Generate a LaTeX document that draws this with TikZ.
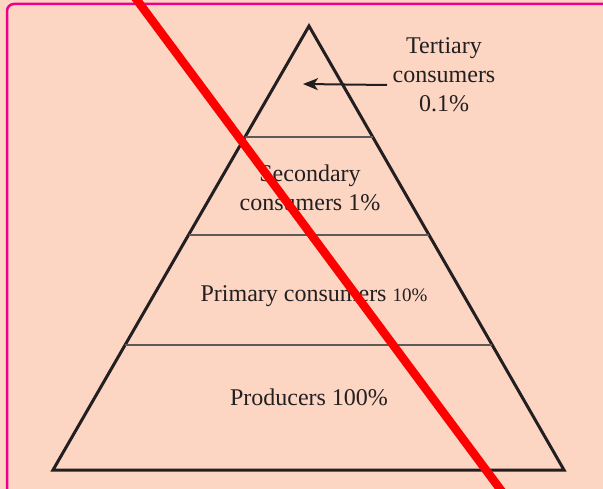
\documentclass[tikz,border=0pt]{standalone}
\usepackage{fontspec}
\setmainfont{Liberation Serif}
\usetikzlibrary{calc,arrows.meta}
\definecolor{bgpeach}{RGB}{252,213,195}
\definecolor{framepink}{RGB}{236,0,140}
\definecolor{inkdark}{RGB}{35,31,32}
\definecolor{linegray}{RGB}{95,90,90}
\begin{document}
\begin{tikzpicture}[x=1pt,y=-1pt,
  pyr/.style={draw=inkdark,line width=3pt,line join=miter},
  level/.style={draw=linegray,line width=1.3pt},
  lbl/.style={text=inkdark,font=\fontsize{24}{29}\selectfont,align=center,inner sep=0pt},
  cross/.style={draw=red,line width=8.5pt}]
\useasboundingbox (0,0) rectangle (603,489);
\begin{scope}
\clip (0,0) rectangle (603,489);
\fill[bgpeach] (0,0) rectangle (603,489);
\draw[framepink,line width=2.5pt,rounded corners=7pt,fill=bgpeach] (7,4) rectangle (640,495);
\end{scope}
% pyramid
\coordinate (apex) at (309,26);
\coordinate (bl) at (53,470);
\coordinate (br) at (564,470);
\draw[pyr] (apex) -- (bl) -- (br) -- cycle;
\draw[level] ($(apex)!0.25!(bl)$) coordinate (l1a) -- ($(apex)!0.25!(br)$) coordinate (l1b);
\draw[level] ($(apex)!0.4707!(bl)$) coordinate (l2a) -- ($(apex)!0.4707!(br)$) coordinate (l2b);
\draw[level] ($(apex)!0.7185!(bl)$) coordinate (l3a) -- ($(apex)!0.7185!(br)$) coordinate (l3b);
% labels
\node[lbl] (tert) at (444,75) {Tertiary\\consumers\\0.1\%};
\node[lbl] (sec) at (310,188) {Secondary\\consumers 1\%};
\node[lbl,anchor=base] (prim) at (314,302) {Primary consumers {\fontsize{19}{22}\selectfont 10\%}};
\node[lbl,anchor=base] (prod) at (309,405) {Producers 100\%};
% arrow
\coordinate (arrstart) at (387,85);
\coordinate (arrend) at (303,84);
\draw[inkdark,line width=2pt,-{Stealth[length=15pt,width=12pt,inset=4pt]}] (arrstart) -- (arrend);
% red cross line
\coordinate (ra) at (131,-8);
\coordinate (rb) at (506,497);
\draw[cross] (ra) -- (rb);
\end{tikzpicture}
\end{document}
